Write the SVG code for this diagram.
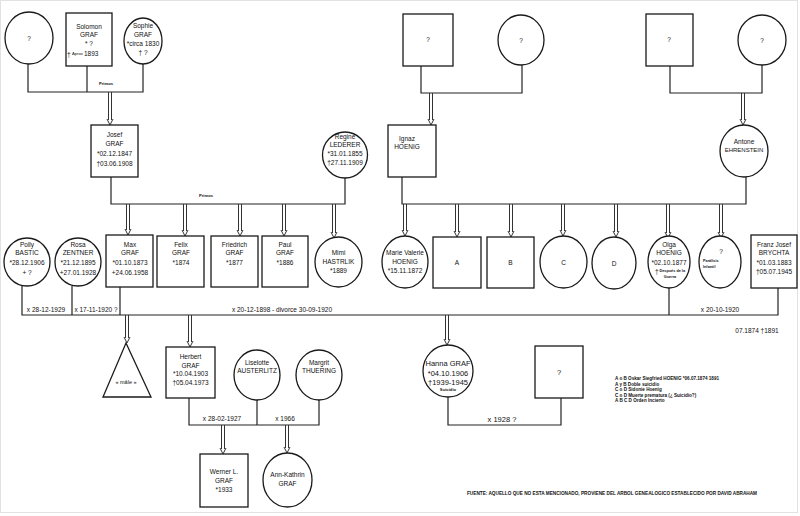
<svg xmlns="http://www.w3.org/2000/svg" width="800" height="516" viewBox="0 0 800 516">
<style>
.n rect,.n ellipse,.n polygon{fill:#fff;stroke:#1a1a1a;stroke-width:1.3}
text{font-family:"Liberation Sans Narrow","Liberation Sans",Arial,sans-serif;font-size:6.5px;text-anchor:middle;fill:#111}
.s{font-size:4.2px;font-weight:bold}
.st{text-anchor:start}
.b{font-size:7.5px}
.c{fill:none;stroke:#222;stroke-width:1.2}
.d{fill:none;stroke:#333;stroke-width:1}
.lg{font-family:"Liberation Sans",Arial,sans-serif;font-size:4.6px;font-weight:bold;text-anchor:start}
</style>
<rect x="0.5" y="0.5" width="797" height="512" fill="#fff" stroke="#e2e2e2"/>

<g id="connectors">
<path class="c" d="M28 64V92H143V64M87 66V92"/>
<path class="c" d="M111 177V204H345V178"/>
<path class="c" d="M421 66V93H522V65"/>
<path class="c" d="M670 66V93H762V65"/>
<path class="c" d="M402 177V204H746V177"/>
<path class="c" d="M22 285V315H778V288M72 286V315M120 287V315M669 286V315"/>
<path class="c" d="M189 398V425H319V400M257 400V425"/>
<path class="c" d="M448 397V425H561V398"/>
<path class="d" d="M108.5 92V120M111.5 92V120M107 119L110 125L113 119"/>
<path class="d" d="M429.5 93V120M432.5 93V120M428 119L431 125L434 119"/>
<path class="d" d="M741.5 93V120M744.5 93V120M740 119L743 125L746 119"/>
<path class="d" d="M126.5 204V230M129.5 204V230M125 229L128 235L131 229"/>
<path class="d" d="M183.5 204V231M186.5 204V231M182 230L185 236L188 230"/>
<path class="d" d="M238.5 204V231M241.5 204V231M237 230L240 236L243 230"/>
<path class="d" d="M282.5 204V231M285.5 204V231M281 230L284 236L287 230"/>
<path class="d" d="M332.5 204V233M335.5 204V233M331 232L334 238L337 232"/>
<path class="d" d="M403.5 204V231M406.5 204V231M402 230L405 236L408 230"/>
<path class="d" d="M455.5 204V232M458.5 204V232M454 231L457 237L460 231"/>
<path class="d" d="M509.5 204V232M512.5 204V232M508 231L511 237L514 231"/>
<path class="d" d="M561.5 204V231M564.5 204V231M560 230L563 236L566 230"/>
<path class="d" d="M614.5 204V232M617.5 204V232M613 231L616 237L619 231"/>
<path class="d" d="M666.5 204V233M669.5 204V233M665 232L668 238L671 232"/>
<path class="d" d="M719.5 204V233M722.5 204V233M718 232L721 238L724 232"/>
<path class="d" d="M125.5 315V338M128.5 315V338M124 337L127 343L130 337"/>
<path class="d" d="M188.5 315V342M191.5 315V342M187 341L190 347L193 341"/>
<path class="d" d="M445.5 315V340M448.5 315V340M444 339L447 345L450 339"/>
<path class="d" d="M221.5 425V449M224.5 425V449M220 448L223 454L226 448"/>
<path class="d" d="M285.5 425V448M288.5 425V448M284 447L287 453L290 447"/>
<text class="s" x="106" y="85">Primos</text>
<text class="s" x="206" y="197">Primos</text>
<text x="46" y="312">x 28-12-1929</text>
<text x="96" y="312">x 17-11-1920 ?</text>
<text x="282" y="312">x 20-12-1898 - divorce 30-09-1920</text>
<text x="720" y="312">x 20-10-1920</text>
<text x="757" y="333">07.1874 †1891</text>
<text x="222" y="421">x 28-02-1927</text>
<text x="285" y="421">x 1966</text>
<text class="b" x="502" y="422">x 1928 ?</text>
</g>

<g id="n-top-q1" class="n"><ellipse cx="29" cy="38" rx="24" ry="26"/><text x="29" y="41">?</text></g>
<g id="n-solomon" class="n"><rect x="66" y="13" width="46" height="53"/>
<text x="89" y="29">Solomon</text><text x="89" y="37">GRAF</text><text x="89" y="46">* ?</text>
<text class="st" x="67" y="57">†</text><text class="s st" x="72" y="55" style="font-weight:normal">Aprox</text><text class="st" x="84" y="56">1893</text></g>
<g id="n-sophie" class="n"><ellipse cx="143" cy="41" rx="19" ry="23"/>
<text x="143" y="28">Sophie</text><text x="143" y="37">GRAF</text><text x="143" y="46">*circa 1830</text><text x="143" y="55">† ?</text></g>
<g id="n-top-q2" class="n"><rect x="403" y="14" width="50" height="52"/><text x="428" y="42">?</text></g>
<g id="n-top-q3" class="n"><ellipse cx="521" cy="40" rx="23" ry="25"/><text x="521" y="43">?</text></g>
<g id="n-top-q4" class="n"><rect x="646" y="14" width="47" height="52"/><text x="669" y="42">?</text></g>
<g id="n-top-q5" class="n"><ellipse cx="762" cy="40" rx="24" ry="25"/><text x="762" y="43">?</text></g>

<g id="n-josef" class="n"><rect x="91" y="125" width="47" height="52"/>
<text x="114.5" y="137">Josef</text><text x="114.5" y="146">GRAF</text><text x="114.5" y="156">*02.12.1847</text><text x="114.5" y="166">†03.06.1908</text></g>
<g id="n-regine" class="n"><ellipse cx="345" cy="155" rx="22.5" ry="23"/>
<text x="345" y="139">Regine</text><text x="345" y="147">LEDERER</text><text x="345" y="156">*31.01.1855</text><text x="345" y="165">†27.11.1909</text></g>
<g id="n-ignaz" class="n"><rect x="388" y="125" width="48" height="52"/>
<text x="407" y="141">Ignaz</text><text x="407" y="149">HOENIG</text></g>
<g id="n-antone" class="n"><ellipse cx="744" cy="151" rx="24" ry="26"/>
<text x="744" y="144">Antone</text><text x="744" y="152" style="font-size:6px">EHRENSTEIN</text></g>

<g id="n-polly" class="n"><ellipse cx="27" cy="262" rx="23" ry="24"/>
<text x="27" y="247">Polly</text><text x="27" y="255">BASTIC</text><text x="27" y="265">*28.12.1906</text><text x="27" y="275">+ ?</text></g>
<g id="n-rosa" class="n"><ellipse cx="78" cy="262" rx="23" ry="24"/>
<text x="78" y="247">Rosa</text><text x="78" y="255">ZENTNER</text><text x="78" y="265">*21.12.1895</text><text x="78" y="275">+27.01.1928</text></g>
<g id="n-max" class="n"><rect x="106" y="235" width="47" height="52"/>
<text x="130" y="247">Max</text><text x="130" y="255">GRAF</text><text x="130" y="265">*01.10.1873</text><text x="130" y="275">+24.06.1958</text></g>
<g id="n-felix" class="n"><rect x="157" y="236" width="47" height="51"/>
<text x="181" y="247">Felix</text><text x="181" y="255">GRAF</text><text x="181" y="265">*1874</text></g>
<g id="n-friedrich" class="n"><rect x="211" y="236" width="47" height="51"/>
<text x="234.5" y="247">Friedrich</text><text x="234.5" y="255">GRAF</text><text x="234.5" y="265">*1877</text></g>
<g id="n-paul" class="n"><rect x="262" y="236" width="46" height="51"/>
<text x="285" y="247">Paul</text><text x="285" y="255">GRAF</text><text x="285" y="265">*1886</text></g>
<g id="n-mimi" class="n"><ellipse cx="338.5" cy="262" rx="23.5" ry="25"/>
<text x="338.5" y="255">Mimi</text><text x="338.5" y="264">HASTRLIK</text><text x="338.5" y="273">*1889</text></g>

<g id="n-marie" class="n"><ellipse cx="405" cy="262" rx="23" ry="26"/>
<text x="405" y="255">Marie Valerie</text><text x="405" y="264">HOENIG</text><text x="405" y="273">*15.11.1872</text></g>
<g id="n-a" class="n"><rect x="433" y="237" width="48" height="51"/><text x="457" y="265">A</text></g>
<g id="n-b" class="n"><rect x="487" y="237" width="47" height="51"/><text x="510.5" y="265">B</text></g>
<g id="n-c" class="n"><ellipse cx="563.5" cy="262" rx="23.5" ry="26"/><text x="563.5" y="265">C</text></g>
<g id="n-d" class="n"><ellipse cx="614" cy="263" rx="22" ry="26"/><text x="614" y="266">D</text></g>
<g id="n-olga" class="n"><ellipse cx="669" cy="262" rx="21" ry="26"/>
<text x="669" y="247">Olga</text><text x="669" y="255">HOENIG</text><text x="669" y="265">*02.10.1877</text><text class="st" x="655" y="274">†</text><text class="s st" x="659.5" y="272" style="font-size:3.8px">Después de la</text><text class="s" x="670" y="278" style="font-size:3.8px">Guerra</text></g>
<g id="n-q-infantil" class="n"><ellipse cx="720" cy="262" rx="21" ry="26"/>
<text x="721" y="254">?</text><text class="s st" x="703" y="262" style="font-size:3.8px">Parálisis</text><text class="s st" x="703" y="268" style="font-size:3.8px">Infantil</text></g>
<g id="n-franz" class="n"><rect x="751" y="235" width="46" height="53"/>
<text x="774" y="247">Franz Josef</text><text x="774" y="255">BRYCHTA</text><text x="774" y="265">*01.03.1883</text><text x="774" y="274">†05.07.1945</text></g>

<g id="n-male" class="n"><polygon points="126,343 151,397 103,397"/><text x="126" y="384" style="font-size:5.5px">« mâle »</text></g>
<g id="n-herbert" class="n"><rect x="166" y="347" width="49" height="51"/>
<text x="190.5" y="359">Herbert</text><text x="190.5" y="368">GRAF</text><text x="190.5" y="376">*10.04.1903</text><text x="190.5" y="385">†05.04.1973</text></g>
<g id="n-liselotte" class="n"><ellipse cx="257" cy="375" rx="23" ry="25"/>
<text x="257" y="365">Liselotte</text><text x="257" y="373">AUSTERLITZ</text></g>
<g id="n-margrit" class="n"><ellipse cx="319" cy="375" rx="23" ry="25"/>
<text x="319" y="365">Margrit</text><text x="319" y="373">THUERING</text></g>
<g id="n-hanna" class="n"><ellipse cx="448" cy="371" rx="25" ry="26"/>
<text class="b" x="448" y="366">Hanna GRAF</text><text class="b" x="448" y="376">*04.10.1906</text><text class="b" x="448" y="385">†1939-1945</text><text class="s" x="448" y="391">Suicidio</text></g>
<g id="n-q-hanna" class="n"><rect x="535" y="346" width="48" height="52"/><text class="b" x="559" y="375">?</text></g>
<g id="n-werner" class="n"><rect x="200" y="454" width="48" height="53"/>
<text x="224" y="474">Werner L.</text><text x="224" y="483">GRAF</text><text x="224" y="492">*1933</text></g>
<g id="n-annkathrin" class="n"><ellipse cx="287.5" cy="480" rx="24.5" ry="27"/>
<text x="287.5" y="477">Ann-Kathrin</text><text x="287.5" y="486">GRAF</text></g>

<g id="legend">
<text class="lg" x="615" y="380">A o B Oskar Siegfried HOENIG  *06.07.1874      1891</text>
<text class="lg" x="615" y="385.5">A y B Doble suicidio</text>
<text class="lg" x="615" y="391">C o D Sidonie Hoenig</text>
<text class="lg" x="615" y="396.5">C o D Muerte prematura (¿ Suicidio?)</text>
<text class="lg" x="615" y="402">A B C D Orden Incierto</text>
<text class="lg" x="467" y="495" textLength="290" lengthAdjust="spacingAndGlyphs">FUENTE: AQUELLO QUE NO ESTA MENCIONADO, PROVIENE DEL ARBOL GENEALOGICO ESTABLECIDO  POR DAVID ABRAHAM</text>
</g>
</svg>
